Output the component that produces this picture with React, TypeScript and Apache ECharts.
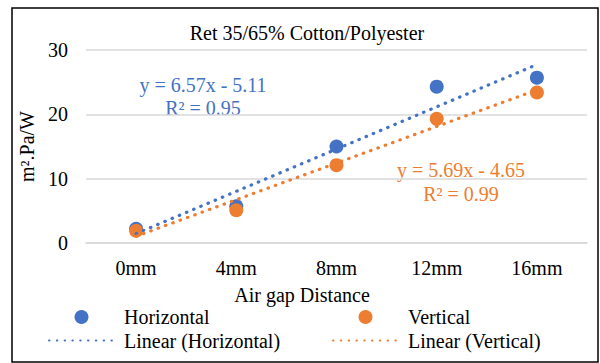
import React, { useEffect, useRef } from "react";
import * as echarts from "echarts";

const categories = ["0mm", "4mm", "8mm", "12mm", "16mm"];
const horizontal = [2.2, 5.7, 15.0, 24.3, 25.7];
const vertical = [1.9, 5.1, 12.1, 19.3, 23.4];
// trendline values read from the displayed equations
const linearHorizontal = [1.46, 8.03, 14.6, 21.17, 27.74];
const linearVertical = [1.04, 6.73, 12.42, 18.11, 23.8];
const yTicks = { min: 0, max: 30, interval: 10 };

const BLUE = "#4472C4";
const ORANGE = "#ED7D31";
const FONT = '"Liberation Serif", "Times New Roman", serif';

export default function App() {
  const ref = useRef<HTMLDivElement>(null);
  useEffect(() => {
    if (!ref.current) return;
    const chart = echarts.init(ref.current, null, { renderer: "svg" });
    const dotted = { width: 3.2, type: [0.5, 7.3] as any, cap: "round" as any, dashOffset: 0 };
    const legendBase = {
      orient: "vertical",
      top: 307,
      padding: 0,
      itemWidth: 65,
      itemHeight: 14,
      itemGap: 3.5,
      textStyle: { fontFamily: FONT, fontSize: 20, color: "#000", lineHeight: 20, padding: [0, 0, 0, 5] },
    };
    chart.setOption({
      animation: false,
      backgroundColor: "#ffffff",
      textStyle: { fontFamily: FONT, color: "#000" },
      grid: { left: 86, right: 13, top: 50, bottom: 120, containLabel: false },
      xAxis: {
        type: "category",
        data: categories,
        boundaryGap: true,
        axisLine: { show: true, lineStyle: { color: "#D9D9D9", width: 1.5 } },
        axisTick: { show: false },
        axisLabel: { fontFamily: FONT, fontSize: 20, color: "#000", margin: 15 },
        splitLine: { show: false },
      },
      yAxis: {
        type: "value",
        min: yTicks.min,
        max: yTicks.max,
        interval: yTicks.interval,
        name: "m².Pa/W",
        nameLocation: "middle",
        nameRotate: 90,
        nameGap: 43,
        nameTextStyle: { fontFamily: FONT, fontSize: 20, color: "#000" },
        axisLine: { show: false },
        axisTick: { show: false },
        axisLabel: { fontFamily: FONT, fontSize: 20, color: "#000", margin: 18 },
        splitLine: { lineStyle: { color: "#D9D9D9", width: 1.5 } },
      },
      legend: [
        {
          ...legendBase,
          left: 48,
          data: [
            { name: "Horizontal" },
            { name: "Linear (Horizontal)", itemStyle: { opacity: 0 } },
          ],
        },
        {
          ...legendBase,
          left: 332,
          data: [
            { name: "Vertical" },
            { name: "Linear (Vertical)", itemStyle: { opacity: 0 } },
          ],
        },
      ],
      series: [
        {
          name: "Horizontal",
          type: "scatter",
          data: horizontal,
          symbol: "circle",
          symbolSize: 14,
          itemStyle: { color: BLUE, opacity: 1 },
          z: 2,
        },
        {
          name: "Vertical",
          type: "scatter",
          data: vertical,
          symbol: "circle",
          symbolSize: 14,
          itemStyle: { color: ORANGE, opacity: 1 },
          z: 2,
        },
        {
          name: "Linear (Horizontal)",
          type: "line",
          data: linearHorizontal,
          symbol: "none",
          lineStyle: { ...dotted, color: BLUE },
          itemStyle: { color: BLUE },
          z: 3,
        },
        {
          name: "Linear (Vertical)",
          type: "line",
          data: linearVertical,
          symbol: "none",
          lineStyle: { ...dotted, color: ORANGE },
          itemStyle: { color: ORANGE },
          z: 3,
        },
      ],
      graphic: [
        {
          type: "rect",
          shape: { x: 12, y: 8, width: 586, height: 354 },
          style: { fill: "none", stroke: "#000", lineWidth: 1.5 },
          silent: true,
          z: 100,
        },
        {
          type: "text",
          x: 307,
          y: 33,
          style: { text: "Ret 35/65% Cotton/Polyester", fontFamily: FONT, fontSize: 20, fill: "#000", textAlign: "center", textVerticalAlign: "middle" },
        },
        {
          type: "text",
          x: 302,
          y: 295,
          style: { text: "Air gap Distance", fontFamily: FONT, fontSize: 20, fill: "#000", textAlign: "center", textVerticalAlign: "middle" },
        },
        {
          type: "text",
          x: 203,
          y: 85,
          style: { text: "y = 6.57x - 5.11", fontFamily: FONT, fontSize: 20, fill: BLUE, textAlign: "center", textVerticalAlign: "middle" },
        },
        {
          type: "text",
          x: 203,
          y: 108,
          style: { text: "R² = 0.95", fontFamily: FONT, fontSize: 20, fill: BLUE, textAlign: "center", textVerticalAlign: "middle" },
        },
        {
          type: "text",
          x: 461,
          y: 170,
          style: { text: "y = 5.69x - 4.65", fontFamily: FONT, fontSize: 20, fill: ORANGE, textAlign: "center", textVerticalAlign: "middle" },
        },
        {
          type: "text",
          x: 461,
          y: 194,
          style: { text: "R² = 0.99", fontFamily: FONT, fontSize: 20, fill: ORANGE, textAlign: "center", textVerticalAlign: "middle" },
        },
      ],
    });
    return () => chart.dispose();
  }, []);
  return (
    <div
      ref={ref}
      style={{ position: "fixed", left: 0, top: 0, width: 600, height: 363, background: "#fff" }}
    />
  );
}
